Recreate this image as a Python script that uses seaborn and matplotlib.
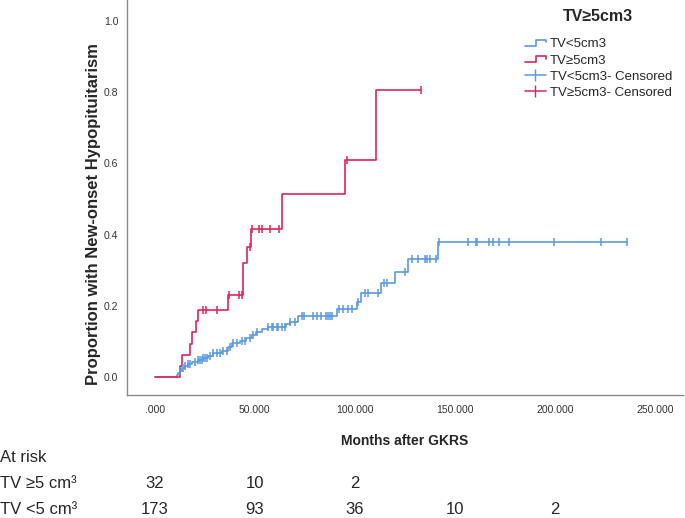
import numpy as np
import pandas as pd
import matplotlib
matplotlib.use('Agg')
import matplotlib.pyplot as plt
from matplotlib.lines import Line2D
from matplotlib.legend_handler import HandlerBase
import seaborn as sns

# 数据：累积发生率（阶梯点）
small_times = [0, 11, 11.5, 12.5, 13.5, 15, 16.5, 18.5, 21.5, 24, 26.5, 29, 33.5, 36.5, 38.5,
               42.5, 45.5, 48.5, 50.5, 53.5, 56.5, 65.5, 67.5, 71.5, 91, 101, 103, 113, 120,
               126.5, 141.5]
small_vals = [0, 0.006, 0.012, 0.018, 0.024, 0.030, 0.036, 0.042, 0.048, 0.054, 0.060, 0.066,
              0.072, 0.085, 0.095, 0.102, 0.110, 0.118, 0.126, 0.134, 0.140, 0.148, 0.155,
              0.170, 0.190, 0.210, 0.236, 0.264, 0.295, 0.330, 0.380]
small_censor = [12.5, 14, 15, 16.5, 17.5, 20, 21.5, 22.5, 23.5, 24, 25, 26, 27.5, 29, 31, 32.5,
                34, 36, 37.5, 39, 41, 43.5, 45, 47.5, 49, 51, 56.5, 58.5, 59, 61, 61.5, 63.5,
                65, 67.5, 70, 73.5, 74.5, 79, 81, 83, 85.5, 86.5, 87.5, 88.5, 92, 94, 96.5,
                98.5, 101.5, 105, 106.5, 111.5, 114.5, 116, 125, 128.5, 131.5, 135, 136,
                137.5, 140.5, 142, 156.5, 160.5, 161, 167, 169, 172, 177, 199.5, 223, 236]

large_times = [0, 12.5, 13.4, 17.5, 18.5, 20.5, 21.5, 36.5, 44, 46, 48, 63.5, 95, 110.5]
large_vals = [0, 0.031, 0.0625, 0.094, 0.125, 0.156, 0.1875, 0.23, 0.32, 0.365, 0.415,
              0.514, 0.61, 0.806]
large_censor = [24, 25.5, 31, 37, 42, 43.5, 47.5, 48.5, 52, 53.5, 57.5, 62, 96, 133]

risk_times = [0, 50, 100, 150, 200]
risk_large = [32, 10, 2]
risk_small = [173, 93, 36, 10, 2]

blue = '#5A98E6'
red = '#E0245A'


def censor_points(times, vals, censor):
    times = np.array(times)
    vals = np.array(vals)
    idx = np.searchsorted(times, censor, side='right') - 1
    return pd.DataFrame({'t': censor, 'p': vals[idx]})


def curve(times, vals, censor):
    # 曲线延伸到最后一个删失点
    return pd.DataFrame({'t': list(times) + [max(censor)], 'p': list(vals) + [vals[-1]]})


class StepHandler(HandlerBase):
    def create_artists(self, legend, orig_handle, xdescent, ydescent, width, height, fontsize, trans):
        xs = np.array([0, 0.55, 0.55, 1.0, 1.0]) * width - xdescent
        ys = np.array([0.15, 0.15, 0.85, 0.85, 0.55]) * height - ydescent
        ln = Line2D(xs, ys, color=orig_handle.get_color(), lw=1.2, transform=trans)
        return [ln]


sns.set_style('white')
plt.rcParams['font.family'] = ['Liberation Sans', 'DejaVu Sans']

fig = plt.figure(figsize=(6.85, 5.18), dpi=100)
ax = fig.add_axes([0.185, 0.2375, 0.812, 0.7625])

df_s = curve(small_times, small_vals, small_censor)
df_l = curve(large_times, large_vals, large_censor)
sns.lineplot(data=df_s, x='t', y='p', color=blue, lw=1.2, drawstyle='steps-post',
             estimator=None, ax=ax)
sns.lineplot(data=df_l, x='t', y='p', color=red, lw=1.2, drawstyle='steps-post',
             estimator=None, ax=ax)
sns.scatterplot(data=censor_points(small_times, small_vals, small_censor), x='t', y='p',
                marker='|', s=32, color=blue, linewidth=1.1, ax=ax, zorder=3)
sns.scatterplot(data=censor_points(large_times, large_vals, large_censor), x='t', y='p',
                marker='|', s=32, color=red, linewidth=1.1, ax=ax, zorder=3)

ax.set_xlim(-14, 264)
ax.set_ylim(-0.0506, 1.059)
ax.set_xticks([0, 50, 100, 150, 200, 250])
ax.set_xticklabels(['.000', '50.000', '100.000', '150.000', '200.000', '250.000'])
ax.set_yticks([0, 0.2, 0.4, 0.6, 0.8, 1.0])
ax.set_yticklabels(['0.0', '0.2', '0.4', '0.6', '0.8', '1.0'])
ax.tick_params(axis='both', length=0, labelsize=7.5, colors='#333333')
ax.tick_params(axis='x', pad=7)
ax.tick_params(axis='y', pad=6)
for s in ['top', 'right']:
    ax.spines[s].set_visible(False)
for s in ['left', 'bottom']:
    ax.spines[s].set_color('#8a8a8a')
    ax.spines[s].set_linewidth(1.0)

ax.set_xlabel('Months after GKRS', fontsize=10, fontweight='bold', labelpad=14)
ax.set_ylabel('Proportion with New-onset Hypopituitarism', fontsize=12, fontweight='bold')
ax.yaxis.set_label_coords(-0.046, 0.458)

handles = [Line2D([], [], color=blue), Line2D([], [], color=red),
           Line2D([], [], color=blue, marker='|', markersize=9, lw=1.1),
           Line2D([], [], color=red, marker='|', markersize=9, lw=1.1)]
labels = ['TV<5cm3', 'TV≥5cm3', 'TV<5cm3- Censored', 'TV≥5cm3- Censored']
leg = fig.legend(handles, labels, title='TV≥5cm3', loc='upper left',
                 bbox_to_anchor=(0.766, 0.982), frameon=False, fontsize=9.5,
                 borderpad=0, borderaxespad=0,
                 handlelength=1.6, handletextpad=0.3, labelspacing=0.3,
                 handler_map={handles[0]: StepHandler(), handles[1]: StepHandler()})
leg.get_title().set_fontweight('bold')
leg.get_title().set_fontsize(11.5)
leg._legend_box.align = 'center'
leg._legend_box.sep = 10

# 风险人数表
fig.text(0.0, 1 - 458 / 518, 'At risk', fontsize=12, va='center')
fig.text(0.0, 1 - 484 / 518, 'TV ≥5 cm³', fontsize=12, va='center')
fig.text(0.0, 1 - 510 / 518, 'TV <5 cm³', fontsize=12, va='center')
for row, y in [(risk_large, 484), (risk_small, 510)]:
    for t, n in zip(risk_times, row):
        xp = ax.transData.transform((t, 0))[0] / fig.bbox.width
        fig.text(xp, 1 - y / 518, str(n), fontsize=12, va='center', ha='center')

fig.savefig('out.png', dpi=100)
